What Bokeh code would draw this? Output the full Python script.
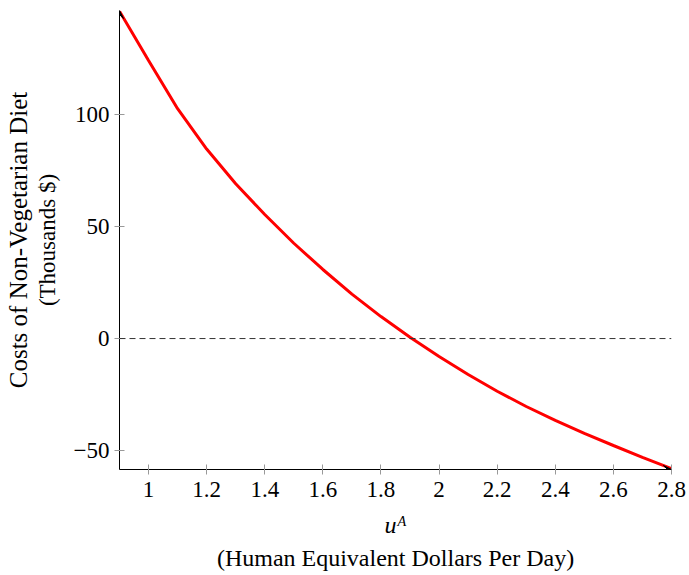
from bokeh.plotting import figure
from bokeh.models import Range1d, FixedTicker, Span, Arrow, VeeHead, Title
from bokeh.embed import file_html
from bokeh.resources import INLINE

# ---- data ----
u_values = [0.9, 1.0, 1.1, 1.2, 1.3, 1.4, 1.5, 1.6, 1.7, 1.8, 1.9,
            2.0, 2.1, 2.2, 2.3, 2.4, 2.5, 2.6, 2.7, 2.8]
cost_values = [146.0, 124.0, 102.5, 84.5, 69.0, 55.3, 42.5, 30.8, 19.8, 9.8, 0.6,
               -8.0, -16.0, -23.5, -30.3, -36.5, -42.3, -47.7, -53.0, -58.0]

x_ticks = [1, 1.2, 1.4, 1.6, 1.8, 2, 2.2, 2.4, 2.6, 2.8]
x_tick_labels = ["1", "1.2", "1.4", "1.6", "1.8", "2", "2.2", "2.4", "2.6", "2.8"]
y_ticks = [-50, 0, 50, 100]
y_tick_labels = ["\u221250", "0", "50", "100"]

x_min, x_max = 0.9, 2.8
y_min, y_max = -58.4, 146.3

FONT = "Liberation Serif"

p = figure(width=689, height=575, output_backend="svg", toolbar_location=None,
           x_range=Range1d(x_min, x_max), y_range=Range1d(y_min, y_max),
           min_border_left=119, min_border_right=18, min_border_top=10,
           min_border_bottom=106)
p.outline_line_color = None
p.grid.visible = False
p.background_fill_color = "white"
p.border_fill_color = "white"

for ax, ticks, labels in ((p.xaxis[0], x_ticks, x_tick_labels),
                          (p.yaxis[0], y_ticks, y_tick_labels)):
    ax.ticker = FixedTicker(ticks=ticks)
    ax.major_label_overrides = {t: l for t, l in zip(ticks, labels)}
    ax.axis_line_color = "black"
    ax.axis_line_width = 1
    ax.major_tick_line_color = "#999999"
    ax.major_tick_in = 5
    ax.major_tick_out = 5
    ax.minor_tick_line_color = None
    ax.major_label_text_font = FONT
    ax.major_label_text_font_size = "23px"
    ax.major_label_text_color = "black"
    ax.axis_label_text_font = FONT
    ax.axis_label_text_font_style = "normal"
    ax.axis_label_text_color = "black"

p.xaxis[0].major_label_standoff = 7
p.yaxis[0].major_label_standoff = 5

p.xaxis[0].axis_label = "u\u1d2c"
p.xaxis[0].axis_label_text_font_style = "italic"
p.xaxis[0].axis_label_text_font_size = "24px"
p.xaxis[0].axis_label_standoff = 12

p.yaxis[0].axis_label = "(Thousands $)"
p.yaxis[0].axis_label_text_font_size = "23px"
p.yaxis[0].axis_label_standoff = 11

p.add_layout(Title(text="(Human Equivalent Dollars Per Day)", align="center",
                   text_font=FONT, text_font_style="normal",
                   text_font_size="24px", text_color="black", standoff=4), "below")
p.add_layout(Title(text="Costs of Non-Vegetarian Diet", align="center",
                   text_font=FONT, text_font_style="normal",
                   text_font_size="25px", text_color="black", standoff=0), "left")

# zero reference line
p.add_layout(Span(location=0, dimension="width", line_color="#333333",
                  line_width=1, line_dash="6 4"))

# the curve
p.line(u_values, cost_values, line_color="#ff0000", line_width=3)

# arrow heads at axis ends
p.add_layout(Arrow(x_start=x_max - 0.05, y_start=y_min, x_end=x_max, y_end=y_min,
                   line_alpha=0, end=VeeHead(size=8, line_color="black",
                                             line_width=1, fill_color="black")))
p.add_layout(Arrow(x_start=x_min, y_start=y_max - 10, x_end=x_min, y_end=y_max,
                   line_alpha=0, end=VeeHead(size=8, line_color="black",
                                             line_width=1, fill_color="black")))

open("out.html", "w").write(file_html(p, INLINE))
